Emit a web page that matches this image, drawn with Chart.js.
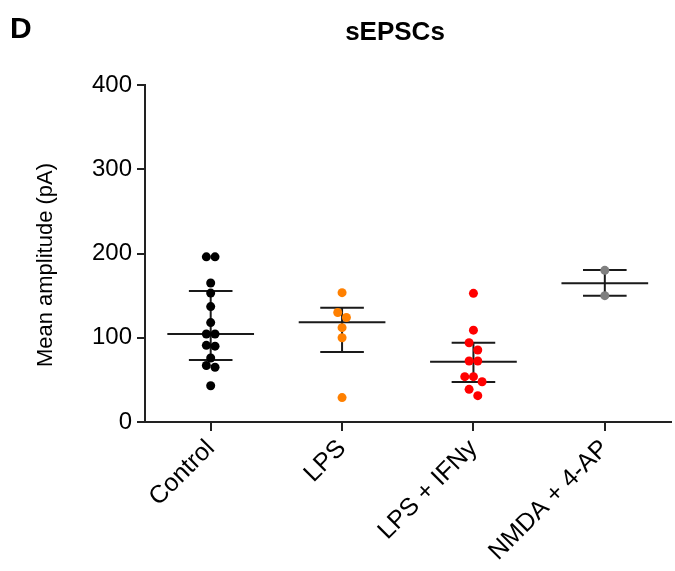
<!DOCTYPE html>
<html>
<head>
<meta charset="utf-8">
<script src="https://cdn.jsdelivr.net/npm/chart.js@4.4.0/dist/chart.umd.min.js"></script>
<style>
  body { margin: 0; background: #fff; }
  #wrap { width: 675px; height: 571px; }
</style>
</head>
<body>
<div id="wrap"><canvas id="amp" width="675" height="571"></canvas></div>
<script>
// groups on the x axis
const categories = ["Control", "LPS", "LPS + IFNy", "NMDA + 4-AP"];

// single cells (pA)
const controlValues = [196, 196, 165, 153, 137, 118, 104.5, 104.5, 91, 90, 76, 67, 65, 43];
const lpsValues     = [153.5, 130, 124, 112, 100, 29];
const lpsIfnValues  = [152.7, 109, 94, 85.5, 72.4, 72.4, 53.8, 53.8, 47.8, 38.8, 31.3];
const nmdaValues    = [180, 150];

// centre line and error bar ends
const centreValues = [104.5, 118.3, 71.6, 164.6];
const upperValues  = [155.5, 135.7, 94.1, 180.4];
const lowerValues  = [73.6, 83, 47.5, 150];

const yTicks = [0, 100, 200, 300, 400];

const groupValues = [controlValues, lpsValues, lpsIfnValues, nmdaValues];
const groupColors = ["#000000", "#ff8000", "#ff0000", "#808080"];

const FONT = "'Liberation Sans', Arial, sans-serif";

// simple swarm: points close in value sit side by side
function swarm(values, idx){
    let sorted = values.slice().sort((a, b) => b - a);
    let rows = [];
    for (let v of sorted){
        let last = rows[rows.length - 1];
        if (last && last[last.length - 1] - v < 8.8){
            last.push(v);
        } else {
            rows.push([v]);
        }
    }
    let step = 0.066;
    let pts = [];
    for (let r of rows){
        r.forEach((v, j) => {
            pts.push({x: idx + (j - (r.length - 1) / 2) * step, y: v});
        });
    }
    return pts;
}

// median / error bar lines, null breaks the line between pieces
function barLines(){
    let d = [];
    for (let i = 0; i < categories.length; i++){
        d.push({x: i - 0.33, y: centreValues[i]}, {x: i + 0.33, y: centreValues[i]}, {x: i, y: null});
        d.push({x: i - 0.166, y: upperValues[i]}, {x: i + 0.166, y: upperValues[i]}, {x: i, y: null});
        d.push({x: i - 0.166, y: lowerValues[i]}, {x: i + 0.166, y: lowerValues[i]}, {x: i, y: null});
        d.push({x: i, y: lowerValues[i]}, {x: i, y: upperValues[i]}, {x: i, y: null});
    }
    return d;
}

let datasets = groupValues.map((vals, i) => ({
    type: "scatter",
    data: swarm(vals, i),
    backgroundColor: groupColors[i],
    borderWidth: 0,
    pointRadius: 4.5
}));

datasets.push({
    type: "line",
    data: barLines(),
    borderColor: "#1a1a1a",
    borderWidth: 2,
    pointRadius: 0,
    spanGaps: false,
    fill: false
});

// texts that sit outside the axes
const textPlugin = {
    id: "texts",
    afterDraw(chart){
        const c = chart.ctx;
        c.save();
        c.fillStyle = "#000";
        c.textBaseline = "middle";
        c.textAlign = "left";
        c.font = "bold 30px " + FONT;
        c.fillText("D", 10, 30);
        c.textAlign = "center";
        c.font = "bold 26px " + FONT;
        c.fillText("sEPSCs", 395, 33);
        c.translate(46, 265);
        c.rotate(-Math.PI / 2);
        c.font = "22px " + FONT;
        c.fillText("Mean amplitude (pA)", 0, 0);
        c.restore();
    }
};

Chart.defaults.font.family = FONT;
Chart.defaults.color = "#000";

const ctx = document.getElementById("amp").getContext("2d");
const myChart = new Chart(ctx, {
    type: "scatter",
    data: { datasets: datasets },
    plugins: [textPlugin],
    options: {
        responsive: false,
        animation: false,
        layout: { padding: { top: 85, left: 0, right: 0, bottom: 0 } },
        plugins: {
            legend: { display: false },
            tooltip: { enabled: false }
        },
        scales: {
            x: {
                type: "linear",
                min: -0.5,
                max: 3.5,
                afterBuildTicks: (s) => { s.ticks = categories.map((c, i) => ({value: i})); },
                afterFit: (s) => { s.height = 149; s.paddingLeft = 0; s.paddingRight = 0; },
                ticks: {
                    autoSkip: false,
                    maxRotation: 45,
                    minRotation: 45,
                    padding: 3,
                    font: { size: 25 },
                    callback: (v) => categories[v]
                },
                grid: { drawOnChartArea: false, tickLength: 9, color: "#222", lineWidth: 2 },
                border: { color: "#222", width: 2 }
            },
            y: {
                min: 0,
                max: 400,
                afterBuildTicks: (s) => { s.ticks = yTicks.map(v => ({value: v})); },
                afterFit: (s) => { s.width = 145; },
                ticks: { padding: 5, font: { size: 24 } },
                grid: { drawOnChartArea: false, tickLength: 8, color: "#222", lineWidth: 2 },
                border: { color: "#222", width: 2 }
            }
        }
    }
});
</script>
</body>
</html>
